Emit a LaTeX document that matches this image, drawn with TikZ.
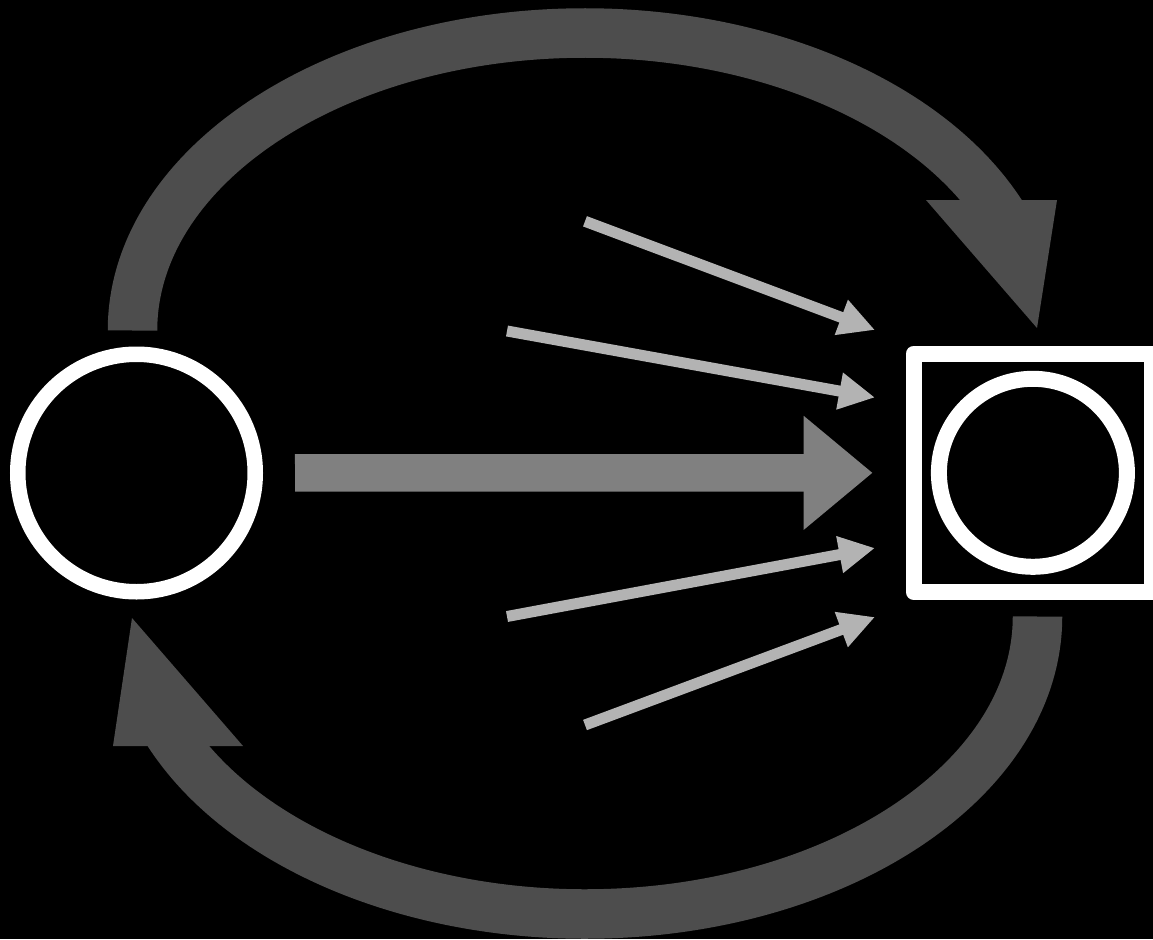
\documentclass[tikz,border=0pt]{standalone}
\usepackage{tikz}
\usetikzlibrary{arrows.meta, positioning, calc}
\definecolor{cloop}{HTML}{4D4D4D}
\definecolor{cmain}{HTML}{808080}
\definecolor{cray}{HTML}{B3B3B3}
\begin{document}
\begin{tikzpicture}[
  x=1pt, y=-1pt,
  ring/.style={draw=white, circle, line width=#1, fill=black,
               inner sep=0pt},
  frame/.style={draw=white, line width=16pt, line join=round,
                minimum width=238.5pt, minimum height=238.5pt},
  loopback/.style={draw=cloop, line width=49.5pt},
  loophead/.style={fill=cloop},
  bigarr/.style={-{Triangle[length=69pt, width=109.5pt]}, cmain,
                 line width=37.5pt, shorten <=32pt, shorten >=33pt},
  ray/.style={-{Triangle[length=36pt, width=35pt]}, cray, line width=11pt}
]
%% ── Background and page size
\fill[black] (0,0) rectangle (1153,939);
\useasboundingbox (0,0) rectangle (1153,939);

%% ── Source circle and target box
\node[ring=15.5pt, minimum size=237.5pt] (src) at (136.5,473) {};
\node[frame] (box) at (1032.9,472.8) {};
\node[ring=16pt, minimum size=188pt] (dst) at (box.center) {};

%% ── Main flow
\draw[bigarr] (src) -- (box);

%% ── Incoming rays
\foreach \i/\sx/\sy/\ty in {1/585/221.3/330, 2/507/331/397.5,
                             3/507/616.5/548, 4/585/725/617}{
  \coordinate (r\i) at (\sx,\sy);
  \coordinate (h\i) at (875,\ty);
  \draw[ray] (r\i) -- (h\i);
}

%% ── Loop over the top (source -> box)
\coordinate (topA) at (132.5,330.5);
\draw[loopback] (topA) arc[start angle=180, end angle=337.2,
                           x radius=452.5, y radius=297.5];
\coordinate (topTip) at (1037,328);
\fill[loophead] (926,200) -- (1057,200) -- (topTip) -- cycle;

%% ── Loop under the bottom (box -> source)
\coordinate (botA) at (1037.5,616.5);
\draw[loopback] (botA) arc[start angle=0, end angle=157.2,
                           x radius=452.5, y radius=297.5];
\coordinate (botTip) at (132,618);
\fill[loophead] (243,746) -- (113,746) -- (botTip) -- cycle;

\end{tikzpicture}
\end{document}
